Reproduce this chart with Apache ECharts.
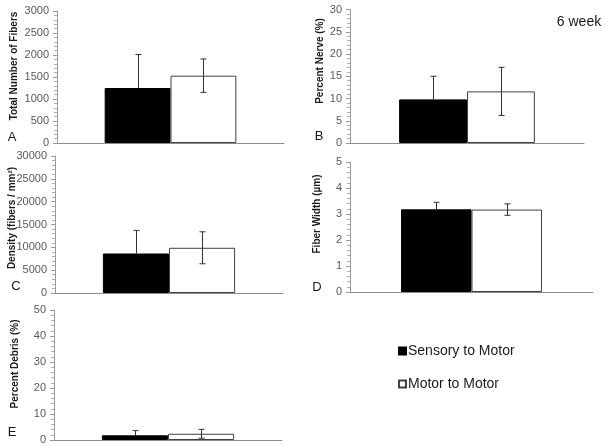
<!DOCTYPE html>
<html><head><meta charset="utf-8">
<script src="https://cdn.jsdelivr.net/npm/echarts@6/dist/echarts.min.js"></script>
<style>html,body{margin:0;padding:0;background:#fff}#c{width:612px;height:447px}</style>
</head><body><div id="c"></div>
<script>
// ---- data ----
const categories = ['6 week'];
const seriesNames = ['Sensory to Motor', 'Motor to Motor'];
const panelLetters = ['A', 'B', 'C', 'D', 'E'];
const axisTitles = ['Total Number of Fibers', 'Percent Nerve (%)', 'Density (fibers / mm²)', 'Fiber Width (µm)', 'Percent Debris (%)'];
const yMax = [3000, 30, 30000, 5, 50];
const yInterval = [500, 5, 5000, 1, 10];
const sensoryMean = [1250, 9.8, 8650, 3.18, 1.8];
const sensoryErr = [760, 5.2, 5050, 0.27, 1.8];
const motorMean = [1530, 11.6, 9900, 3.17, 2.4];
const motorErr = [380, 5.4, 3500, 0.22, 1.7];

// ---- layout ----
const grids = [
  {left: 57, top: 11, width: 227, height: 132},
  {left: 350, top: 9.5, width: 234, height: 133.5},
  {left: 55, top: 156, width: 228, height: 137},
  {left: 350, top: 162, width: 243, height: 130},
  {left: 54, top: 310, width: 228, height: 130}
];
const titlePos = [[14, 66], [320, 61], [12, 218], [317, 214], [15, 364]];
const letterPos = [[12, 137], [319, 136], [16, 286], [317, 287], [12, 432]];
const FONT = 'Liberation Sans, Arial, sans-serif';
const BAR_FRAC = 0.29;

const xAxes = [], yAxes = [], series = [], graphics = [];
grids.forEach((g, i) => {
  xAxes.push({
    type: 'category', gridIndex: i, data: categories,
    axisLine: {lineStyle: {color: '#8c8c8c', width: 1}},
    axisTick: {show: false}, axisLabel: {show: false}
  });
  yAxes.push({
    type: 'value', gridIndex: i, min: 0, max: yMax[i], interval: yInterval[i],
    axisLine: {show: true, lineStyle: {color: '#9a9a9a', width: 1}},
    axisTick: {show: true, length: 4, lineStyle: {color: '#9a9a9a'}},
    minorTick: {show: true, splitNumber: 5, length: 3, lineStyle: {color: '#b0b0b0'}},
    splitLine: {show: false},
    axisLabel: {color: '#595959', fontSize: 11, fontFamily: FONT, margin: 8, formatter: v => String(v)}
  });
  series.push({
    name: seriesNames[0], type: 'bar', xAxisIndex: i, yAxisIndex: i,
    data: [sensoryMean[i]], barWidth: (BAR_FRAC * 100) + '%', barGap: '0%',
    itemStyle: {color: '#000000', borderColor: '#000000', borderWidth: 1}, z: 2
  });
  series.push({
    name: seriesNames[1], type: 'bar', xAxisIndex: i, yAxisIndex: i,
    data: [motorMean[i]], barWidth: (BAR_FRAC * 100) + '%', barGap: '0%',
    itemStyle: {color: '#ffffff', borderColor: '#404040', borderWidth: 1}, z: 2
  });
  [[sensoryMean, sensoryErr, -1, false], [motorMean, motorErr, 1, true]].forEach(([m, e, side, showLow]) => {
    series.push({
      type: 'custom', xAxisIndex: i, yAxisIndex: i, z: 5,
      data: [[0, m[i], e[i]]],
      renderItem: function (params, api) {
        const band = api.size([1, 0])[0];
        const c = api.coord([api.value(0), api.value(1)]);
        const x = Math.round(c[0] + side * band * BAR_FRAC / 2) + 0.5;
        const hi = api.coord([0, api.value(1) + api.value(2)])[1];
        const lo = api.coord([0, Math.max(0, api.value(1) - api.value(2))])[1];
        const w = 3;
        const st = {stroke: '#333333', lineWidth: 1};
        const kids = [
          {type: 'line', shape: {x1: x, y1: hi, x2: x, y2: showLow ? lo : c[1]}, style: st},
          {type: 'line', shape: {x1: x - w, y1: hi, x2: x + w, y2: hi}, style: st}
        ];
        if (showLow) kids.push({type: 'line', shape: {x1: x - w, y1: lo, x2: x + w, y2: lo}, style: st});
        return {type: 'group', children: kids};
      }
    });
  });
  graphics.push({
    type: 'text', x: titlePos[i][0], y: titlePos[i][1], rotation: Math.PI / 2,
    style: {text: axisTitles[i], fill: '#1a1a1a', font: 'bold 10px ' + FONT, align: 'center', verticalAlign: 'middle'}
  });
  graphics.push({
    type: 'text', x: letterPos[i][0], y: letterPos[i][1],
    style: {text: panelLetters[i], fill: '#1a1a1a', font: '13px ' + FONT, align: 'center', verticalAlign: 'middle'}
  });
});
graphics.push({
  type: 'text', x: 579, y: 22,
  style: {text: categories[0], fill: '#1a1a1a', font: '14px ' + FONT, align: 'center', verticalAlign: 'middle'}
});

const chart = echarts.init(document.getElementById('c'), null, {renderer: 'canvas'});
chart.setOption({
  animation: false,
  backgroundColor: '#ffffff',
  grid: grids,
  xAxis: xAxes,
  yAxis: yAxes,
  series: series,
  legend: {
    data: seriesNames, orient: 'vertical', left: 393, top: 339,
    icon: 'rect', itemWidth: 7, itemHeight: 7, itemGap: 19,
    textStyle: {fontSize: 14, fontFamily: FONT, color: '#1a1a1a', padding: [0, 0, 0, -3]},
    selectedMode: false
  },
  graphic: graphics
});
</script></body></html>
